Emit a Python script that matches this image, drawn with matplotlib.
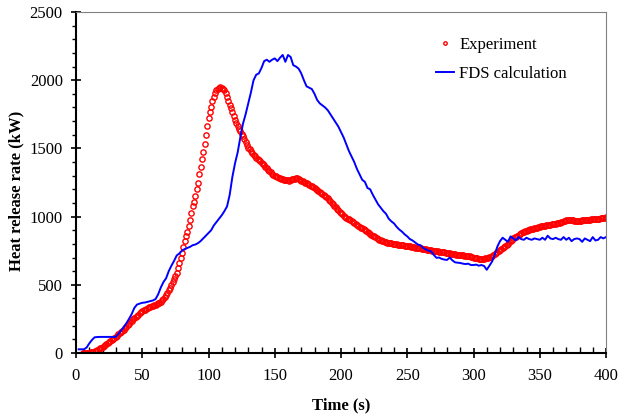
import matplotlib.pyplot as plt
import numpy as np

plt.rcParams['font.family'] = ['Liberation Serif', 'DejaVu Serif']

# Experiment, 1 s sampling from t = 5 s
exp_start = 5
exp_hrr = [
    0, 0, 1, 1, 2, 3, 4, 6, 8, 12,
    17, 22, 28, 34, 40, 46, 53, 60, 68, 75,
    83, 90, 98, 105, 113, 120, 128, 136, 144, 151,
    160, 170, 181, 192, 204, 215, 225, 236, 246, 256,
    265, 274, 282, 290, 298, 305, 312, 318, 324, 330,
    335, 340, 344, 348, 352, 355, 359, 364, 370, 376,
    386, 397, 410, 425, 442, 460, 480, 500, 520, 545,
    565, 590, 625, 660, 695, 735, 775, 820, 855, 890,
    930, 975, 1025, 1075, 1110, 1150, 1200, 1250, 1310, 1365,
    1420, 1470, 1535, 1600, 1665, 1720, 1765, 1805, 1845, 1875,
    1905, 1925, 1938, 1945, 1948, 1945, 1938, 1925, 1905, 1880,
    1850, 1820, 1795, 1770, 1740, 1710, 1688, 1665, 1645, 1625,
    1608, 1590, 1568, 1545, 1525, 1505, 1492, 1480, 1467, 1455,
    1442, 1430, 1422, 1415, 1405, 1395, 1385, 1375, 1365, 1355,
    1345, 1335, 1325, 1315, 1308, 1300, 1295, 1290, 1285, 1280,
    1277, 1275, 1270, 1268, 1265, 1268, 1262, 1270, 1272, 1275,
    1278, 1280, 1282, 1276, 1270, 1262, 1258, 1252, 1248, 1243,
    1238, 1233, 1228, 1222, 1215, 1208, 1202, 1195, 1188, 1180,
    1172, 1165, 1158, 1150, 1142, 1135, 1124, 1113, 1102, 1091,
    1080, 1069, 1058, 1047, 1036, 1025, 1016, 1008, 1000, 992,
    985, 980, 973, 967, 961, 955, 948, 941, 934, 927,
    920, 913, 906, 899, 892, 885, 879, 873, 867, 861,
    855, 849, 843, 837, 831, 826, 822, 818, 814, 812,
    810, 808, 806, 804, 802, 800, 799, 797, 795, 793,
    792, 790, 789, 787, 786, 785, 783, 781, 779, 777,
    775, 773, 771, 770, 768, 767, 765, 763, 761, 759,
    757, 755, 754, 752, 751, 750, 748, 747, 745, 744,
    743, 741, 739, 738, 736, 735, 733, 731, 729, 727,
    725, 723, 722, 720, 719, 718, 717, 716, 714, 713,
    712, 710, 708, 705, 703, 700, 698, 695, 693, 691,
    690, 689, 690, 691, 693, 695, 698, 702, 707, 712,
    718, 725, 732, 740, 747, 755, 762, 770, 777, 785,
    792, 801, 811, 821, 831, 840, 847, 854, 861, 868,
    875, 880, 884, 889, 893, 897, 900, 903, 906, 909,
    912, 915, 918, 920, 923, 926, 928, 930, 932, 934,
    935, 937, 939, 941, 943, 945, 947, 949, 951, 953,
    955, 959, 963, 967, 971, 975, 974, 973, 972, 972,
    972, 971, 971, 970, 970, 970, 971, 972, 973, 974,
    975, 976, 977, 978, 979, 980, 981, 982, 983, 984,
    985, 987, 989, 991, 993, 995,
]

# FDS calculation, 2 s output from t = 2 s
fds_start = 2
fds_hrr = [
    27, 27, 27, 40, 70, 95, 115, 117, 118, 118,
    118, 118, 118, 118, 118, 140, 165, 190, 218, 250,
    285, 330, 355, 362, 368, 370, 375, 380, 385, 395,
    430, 480, 520, 548, 600, 640, 675, 715, 730, 750,
    762, 770, 778, 790, 795, 805, 820, 840, 860, 880,
    900, 935, 960, 985, 1010, 1040, 1075, 1160, 1290, 1390,
    1470, 1580, 1680, 1750, 1830, 1910, 2000, 2040, 2050, 2090,
    2140, 2150, 2135, 2150, 2160, 2140, 2165, 2185, 2135, 2185,
    2170, 2110, 2100, 2085, 2050, 2000, 1955, 1945, 1935, 1900,
    1855, 1830, 1815, 1800, 1780, 1750, 1720, 1690, 1660, 1620,
    1580, 1530, 1480, 1440, 1400, 1350, 1310, 1270, 1255, 1210,
    1200, 1160, 1125, 1090, 1065, 1040, 1020, 985, 965, 950,
    925, 905, 890, 870, 855, 835, 825, 810, 795, 790,
    770, 760, 750, 745, 720, 698, 700, 690, 685, 682,
    700, 680, 665, 662, 660, 655, 652, 655, 645, 645,
    648, 640, 645, 638, 610, 640, 670, 720, 780, 820,
    845, 830, 815, 855, 840, 825, 850, 835, 830, 845,
    835, 830, 840, 835, 830, 845, 830, 860, 840, 835,
    845, 835, 830, 850, 830, 845, 820, 835, 840, 835,
    815, 840, 830, 820, 850, 825, 830, 850, 840, 850,
]

exp_t = exp_start + np.arange(len(exp_hrr))
fds_t = fds_start + 2 * np.arange(len(fds_hrr))

fig = plt.figure(figsize=(6.18, 4.17), dpi=100)
ax = fig.add_axes([76 / 618, 64 / 417, 530 / 618, 341 / 417])

ax.plot(exp_t, exp_hrr, 'o', mfc='none', mec='#ff0000', ms=3.8, mew=1.0,
        label='Experiment')
ax.plot(fds_t, fds_hrr, color='#0000ff', lw=1.4, label='FDS calculation')

ax.set_xlim(0, 400)
ax.set_ylim(0, 2500)
ax.set_xticks(np.arange(0, 401, 50))
ax.set_xticks(np.arange(0, 401, 10), minor=True)
ax.set_yticks(np.arange(0, 2501, 500))
ax.set_yticks(np.arange(0, 2501, 100), minor=True)

ax.tick_params(axis='x', which='major', direction='inout', length=7, width=1.2,
               pad=7, labelsize=12)
ax.tick_params(axis='x', which='minor', direction='in', length=4, width=1)
ax.tick_params(axis='y', which='major', direction='inout', length=7, width=1.2,
               pad=6, labelsize=12)
ax.tick_params(axis='y', which='minor', direction='out', length=3, width=1)

ax.spines['left'].set_linewidth(1.5)
ax.spines['bottom'].set_linewidth(1.5)
ax.spines['top'].set_color('#808080')
ax.spines['right'].set_color('#808080')

ax.set_xlabel('Time (s)', fontsize=12, fontweight='bold', labelpad=10)
ax.set_ylabel('Heat release rate (kW)', fontsize=12, fontweight='bold')
ax.yaxis.set_label_coords(-0.097, 0.475)

ax.legend(loc='upper left', bbox_to_anchor=(436 / 618, 1 - 37 / 417),
          bbox_transform=fig.transFigure, frameon=False, fontsize=12,
          handlelength=1.1, handletextpad=0.3, labelspacing=0.75,
          borderpad=0, borderaxespad=0, markerscale=0.65)

fig.savefig('out.png', dpi=100)
